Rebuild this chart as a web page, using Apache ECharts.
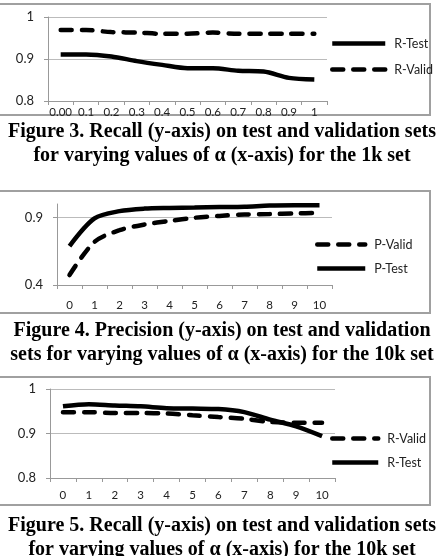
<!DOCTYPE html>
<html>
<head>
<meta charset="utf-8">
<script src="https://cdn.jsdelivr.net/npm/echarts@6/dist/echarts.min.js"></script>
<style>
  html, body { margin: 0; padding: 0; background: #fff; }
  #chart { width: 444px; height: 556px; }
</style>
</head>
<body>
<div id="chart"></div>
<script>
// figure 3: 1k set, recall
const alpha1k = ['0.00', '0.1', '0.2', '0.3', '0.4', '0.5', '0.6', '0.7', '0.8', '0.9', '1']
const rTest1k = [0.911, 0.911, 0.906, 0.895, 0.886, 0.878, 0.878, 0.872, 0.870, 0.855, 0.851]
const rValid1k = [0.969, 0.969, 0.964, 0.963, 0.960, 0.960, 0.963, 0.960, 0.960, 0.960, 0.960]

// figure 4: 10k set, precision
const alpha10k = ['0', '1', '2', '3', '4', '5', '6', '7', '8', '9', '10']
const pTest10k = [0.688, 0.893, 0.947, 0.966, 0.971, 0.974, 0.977, 0.980, 0.988, 0.990, 0.990]
const pValid10k = [0.474, 0.720, 0.806, 0.848, 0.875, 0.898, 0.912, 0.922, 0.925, 0.930, 0.934]

// figure 5: 10k set, recall
const rTest10k = [0.961, 0.966, 0.963, 0.961, 0.957, 0.956, 0.955, 0.948, 0.931, 0.916, 0.894]
const rValid10k = [0.948, 0.948, 0.946, 0.946, 0.945, 0.941, 0.937, 0.933, 0.926, 0.924, 0.924]

const captions = [
  'Figure 3. Recall (y-axis) on test and validation sets\nfor varying values of α (x-axis) for the 1k set',
  'Figure 4. Precision (y-axis) on test and validation\nsets for varying values of α (x-axis) for the 10k set',
  'Figure 5. Recall (y-axis) on test and validation sets\nfor varying values of α (x-axis) for the 10k set'
]

const chart = echarts.init(document.getElementById('chart'))

const font = 'Lato, "Open Sans", sans-serif'
const solid = { color: '#000', width: 4.5, type: 'solid' }
const dashed = { color: '#000', width: 4.5, type: [11, 10], cap: 'round' }

const xAxis = (idx, data, margin) => ({
  type: 'category',
  gridIndex: idx,
  data: data,
  boundaryGap: true,
  axisLine: { lineStyle: { color: '#999', width: 1 } },
  axisTick: { show: true, length: 4, lineStyle: { color: '#999' } },
  axisLabel: { color: '#222', fontFamily: font, fontSize: 11.5, margin: margin, interval: 0 }
})

const yAxis = (idx, min, max, interval, margin) => ({
  type: 'value',
  gridIndex: idx,
  min: min,
  max: max,
  interval: interval,
  axisLine: { show: true, lineStyle: { color: '#999', width: 1 } },
  axisTick: { show: true, length: 4, lineStyle: { color: '#999' } },
  axisLabel: { color: '#222', fontFamily: font, fontSize: 13, margin: margin, showMaxLabel: min !== 0.4 },
  splitLine: { show: true, showMaxLine: min !== 0.4, showMinLine: false, lineStyle: { color: '#bbb', width: 1 } }
})

const line = (name, data, idx, style) => ({
  name: name,
  type: 'line',
  xAxisIndex: idx,
  yAxisIndex: idx,
  data: data,
  symbol: 'none',
  smooth: 0.3,
  lineStyle: style,
  itemStyle: { color: '#000' },
  emphasis: { disabled: true }
})

const legend = (names, left, top, width, gap) => ({
  orient: 'vertical',
  left: left,
  top: top,
  padding: 0,
  data: names,
  itemWidth: width,
  itemHeight: 14,
  itemGap: gap,
  selectedMode: false,
  itemStyle: { opacity: 0 },
  lineStyle: { width: 4.5 },
  textStyle: { color: '#222', fontFamily: font, fontSize: 12.5, padding: [0, 0, 0, 4] }
})

const frame = (top, bottom) => ({
  type: 'rect',
  shape: { x: -3, y: top, width: 433, height: bottom - top },
  style: { fill: 'none', stroke: '#a0a0a0', lineWidth: 2 },
  z: -1
})

const caption = (text, top) => ({
  text: text,
  left: 'center',
  top: top,
  textStyle: {
    fontFamily: '"Liberation Serif", "DejaVu Serif", serif',
    fontWeight: 'bold',
    fontSize: 20,
    lineHeight: 24,
    color: '#000'
  }
})

chart.setOption({
  animation: false,
  backgroundColor: '#fff',
  title: [
    caption(captions[0], 115),
    caption(captions[1], 314),
    caption(captions[2], 509)
  ],
  grid: [
    { left: 48, top: 17, width: 279, height: 84 },
    { left: 57, top: 204, width: 275, height: 81 },
    { left: 50, top: 389, width: 285, height: 89 }
  ],
  xAxis: [
    xAxis(0, alpha1k, 5),
    xAxis(1, alpha10k, 14),
    xAxis(2, alpha10k, 11)
  ],
  yAxis: [
    yAxis(0, 0.8, 1, 0.1, 14),
    yAxis(1, 0.4, 1, 0.5, 14),
    yAxis(2, 0.8, 1, 0.1, 14)
  ],
  legend: [
    legend(['R-Test', 'R-Valid'], 330, 37, 53, 13),
    legend(['P-Valid', 'P-Test'], 315, 238, 48, 11),
    legend(['R-Valid', 'R-Test'], 330, 432, 46, 11)
  ],
  graphic: [
    frame(4, 115),
    frame(191, 313),
    frame(377, 505)
  ],
  series: [
    line('R-Test', rTest1k, 0, solid),
    line('R-Valid', rValid1k, 0, dashed),
    line('P-Valid', pValid10k, 1, dashed),
    line('P-Test', pTest10k, 1, solid),
    line('R-Valid', rValid10k, 2, dashed),
    line('R-Test', rTest10k, 2, solid)
  ]
})

window.addEventListener('resize', () => chart.resize())
</script>
</body>
</html>
